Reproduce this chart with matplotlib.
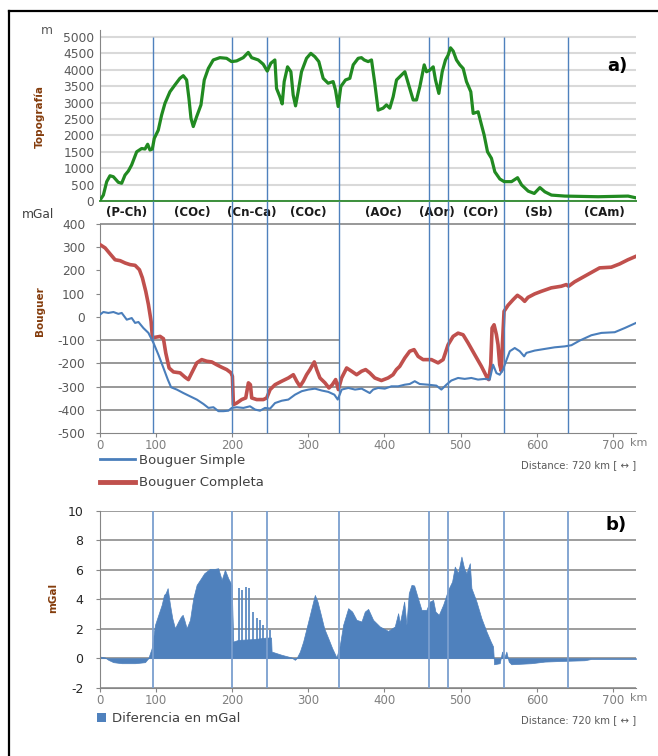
import matplotlib
matplotlib.use("Agg")
import matplotlib.pyplot as plt
from matplotlib.lines import Line2D
from matplotlib.patches import Patch

plt.rcParams["font.family"] = ["DejaVu Sans"]
plt.rcParams["axes.unicode_minus"] = False

# --------------------------------------------------
# datos leidos del perfil (km, valor)

topo_km = [27.3, 31.6, 36, 40.3, 44.7, 51.2, 55.6, 60, 64.4, 68.7, 75.3, 81.8, 86.2, 89.7,
           92.7, 95.8, 98.4, 103.6, 108, 112.4, 118.9, 125.5, 132, 136.4, 140.8, 143.8,
           146.5, 149.5, 153.9, 159.6, 163.9, 169.2, 175.7, 184.4, 193.2, 199.7, 206.3,
           215, 221.6, 226, 234.7, 241.2, 246.5, 251.2, 256.5, 258.7, 263, 266.1, 268.7,
           273.1, 277.5, 280.5, 283.6, 287, 291.4, 298, 303.6, 308.9, 314.1, 319.8, 326.3,
           332.9, 336, 339.5, 343, 349.1, 354.8, 359.2, 365.7, 370, 373.6, 378.8, 383.2,
           387.5, 391.9, 398.4, 402.8, 407.2, 411.6, 416, 422.5, 426.9, 431.3, 437.8,
           442.2, 446.6, 452.3, 455.3, 459.7, 464.1, 467.1, 471.5, 475.9, 480.2, 483.7,
           486.8, 490.3, 494.6, 499, 503.4, 507.7, 513.4, 516.5, 523, 527.4, 530.9, 535.3,
           540.5, 544.9, 551.5, 557.2, 566.8, 574.7, 580, 588.7, 596.6, 604, 610.5, 619.2,
           636.7, 680.3, 719.6, 729.3]
topo_m = [30, 180, 590, 770, 740, 570, 540, 790, 915, 1100, 1500, 1600, 1585, 1730, 1555,
          1585, 1910, 2160, 2620, 2980, 3330, 3540, 3740, 3820, 3690, 3130, 2520, 2270,
          2570, 2930, 3690, 4040, 4300, 4370, 4350, 4250, 4270, 4370, 4530, 4370, 4300,
          4170, 3960, 4200, 4300, 3430, 3180, 2960, 3640, 4090, 3940, 3230, 2900, 3330,
          3940, 4350, 4500, 4400, 4250, 3740, 3590, 3640, 3380, 2880, 3490, 3690, 3740,
          4150, 4350, 4370, 4300, 4250, 4300, 3590, 2770, 2830, 2930, 2830, 3180, 3690,
          3840, 3940, 3590, 3080, 3080, 3490, 4150, 3940, 3990, 4090, 3690, 3280, 3940,
          4300, 4450, 4670, 4570, 4300, 4150, 4040, 3640, 3330, 2670, 2720, 2320, 2010,
          1500, 1300, 890, 670, 590, 590, 710, 490, 300, 230, 410, 280, 180, 150, 130,
          150, 100]

simple_km = [27.3, 31.6, 38.2, 44.8, 51.3, 55.7, 62.3, 68.8, 73.2, 77.6, 84.1, 90.7, 97.3,
             103.8, 110.4, 116.1, 120.4, 127.9, 136.6, 145.3, 154.1, 162.8, 169.4, 175.9,
             182.5, 189, 195.6, 199.9, 206.5, 215.2, 223.9, 230.5, 237, 243.6, 250.2,
             256.7, 265.5, 274.2, 282.9, 291.7, 300.4, 309.1, 317.9, 326.6, 334.5, 338.9,
             344.1, 352.8, 361.6, 370.3, 380.9, 385.3, 391.9, 400.6, 409.3, 418.1, 426.8,
             433.3, 439.9, 446.4, 457.3, 468.3, 474.8, 481.4, 487.9, 496.7, 505.4, 514.1,
             522.9, 531.6, 538.2, 542.6, 547, 551.3, 555.7, 557.9, 564.5, 571, 577.6,
             583.3, 586.3, 597.2, 610.3, 623.4, 636.5, 645.3, 656.2, 671.5, 684.6, 702.1,
             715.2, 730]
simple_mgal = [10, 21, 17, 21, 13, 17, -12, -5, -26, -22, -48, -69, -112, -163, -220, -270,
               -303, -313, -328, -342, -356, -375, -392, -389, -406, -406, -404, -392,
               -389, -392, -385, -399, -404, -392, -395, -371, -361, -356, -335, -320,
               -313, -309, -317, -323, -335, -356, -313, -306, -313, -309, -328, -313,
               -306, -309, -299, -299, -292, -289, -277, -289, -292, -296, -313, -292,
               -274, -263, -267, -263, -270, -267, -270, -206, -242, -249, -227, -206,
               -148, -134, -148, -170, -155, -145, -138, -131, -127, -122, -102, -79,
               -69, -66, -48, -26]

completa_km = [27.3, 33.9, 40.5, 47, 53.6, 60.2, 66.7, 73.2, 78.9, 82.8, 87.2, 90.7, 94.2,
               96, 99.4, 106, 110.4, 113.4, 117.8, 123.5, 132.2, 138.8, 143.1, 147.5,
               154.1, 160.6, 167.2, 173.7, 180.2, 186.8, 193.4, 199, 200.8, 202.1, 206.5,
               213, 218.3, 221.8, 224.4, 226.1, 232.7, 241.4, 245.8, 250.2, 256.7, 265.5,
               274.2, 280.7, 285.1, 289.4, 293.8, 298.1, 302.5, 308.2, 311.3, 315.6,
               322.2, 327.4, 331.8, 336.2, 339.7, 344, 350.6, 357.1, 363.7, 370.2, 375.5,
               380.9, 387.5, 396.2, 404.9, 411.4, 415.8, 420.2, 426.8, 433.3, 439, 444.3,
               450.8, 461.7, 470.5, 477.1, 483.6, 490.2, 496.7, 503.3, 509.8, 518.6,
               527.3, 533.9, 536.9, 539.5, 541.3, 543.9, 547, 549.1, 551.3, 553.5, 554.8,
               557, 562.2, 568.8, 574.5, 579.7, 584, 588.4, 597.1, 605.8, 618.9, 632,
               638.6, 641.6, 649.5, 662.6, 675.7, 682.3, 697.6, 708.5, 719.4, 730]
completa_mgal = [311, 297, 271, 246, 242, 232, 225, 222, 203, 168, 110, 53, -19, -91, -88,
                 -84, -94, -155, -220, -237, -241, -260, -270, -241, -198, -184, -191,
                 -194, -206, -217, -227, -241, -256, -378, -371, -356, -349, -284, -292,
                 -349, -356, -356, -349, -313, -292, -277, -263, -249, -277, -299, -277,
                 -249, -227, -194, -227, -263, -284, -306, -292, -270, -313, -263, -220,
                 -234, -249, -234, -227, -241, -263, -274, -263, -249, -227, -213, -177,
                 -148, -141, -170, -184, -184, -198, -184, -120, -84, -70, -77, -112,
                 -163, -213, -256, -270, -206, -48, -34, -77, -120, -206, -234, -120, 24,
                 50, 74, 93, 81, 67, 84, 99, 110, 125, 132, 139, 132, 151, 175, 199, 211,
                 214, 228, 246, 261]

diff_km = [27.2, 33.8, 38.1, 44.7, 55.7, 73.1, 86.2, 90.5, 95, 99.3, 103.7, 108.1, 111.1,
           113.3, 115.9, 119, 122, 125.5, 129.9, 133.4, 135.6, 137.7, 140.8, 145.2, 149.5,
           153.9, 158.3, 163.9, 171.4, 177.9, 182.2, 186.7, 191, 195.3, 199.8, 201.9,
           208.4, 230, 245, 251.5, 252.2, 265.3, 278.4, 282.7, 284.9, 289.3, 293.6, 298,
           302.4, 306.7, 308.9, 312.4, 316.8, 321.1, 326.4, 331.6, 337.3, 341.7, 346,
           352.6, 357.8, 363.5, 370.1, 374.4, 378.8, 385.3, 394.1, 405, 413.7, 418.1,
           420.3, 426, 429, 432.1, 435.6, 439.1, 443.4, 448.7, 455.2, 459.6, 464, 467,
           471.4, 477.1, 483.6, 488.9, 492.4, 496.7, 501.1, 504.6, 507.7, 512.1, 514.2,
           520.8, 527.3, 533.9, 539.5, 542.6, 543.9, 551.3, 554.4, 557, 560, 563.1, 566.5,
           592.7, 610.2, 636.4, 662.6, 671.4, 730]
diff_mgal = [0.11, 0.05, -0.11, -0.27, -0.34, -0.34, -0.27, 0, 0.68, 2.26, 2.94, 3.62, 4.29,
             4.41, 4.75, 3.62, 2.71, 2.03, 2.49, 2.82, 2.94, 2.6, 2.03, 2.6, 4.07, 4.97,
             5.31, 5.76, 6.06, 6.06, 6.1, 5.31, 5.99, 5.42, 4.97, 1.13, 1.24, 1.3, 1.4,
             1.4, 0.45, 0.23, 0.05, -0.11, 0, 0.45, 1.13, 2.03, 2.94, 3.84, 4.29, 3.84,
             2.94, 2.03, 1.36, 0.68, 0.05, 0.9, 2.26, 3.39, 3.16, 2.6, 2.49, 3.16, 3.34,
             2.6, 2.15, 1.85, 2.15, 3.05, 2.37, 3.84, 2.26, 4.41, 4.97, 4.93, 4.18, 3.28,
             3.28, 3.84, 3.95, 3.16, 2.94, 3.62, 4.63, 5.2, 6.21, 5.76, 6.89, 6.1, 5.76,
             6.44, 4.75, 3.84, 2.71, 1.81, 1.13, 0.79, -0.41, -0.34, 0.45, 0, 0.45, -0.23,
             -0.41, -0.34, -0.23, -0.18, -0.14, -0.05, -0.05]

# picos aislados de la diferencia
spike_km = [209.4, 212.8, 218.1, 222.4, 228.1, 232.5, 236.8, 241.2, 245.6, 250]
spike_mgal = [4.75, 4.63, 4.86, 4.75, 3.16, 2.71, 2.6, 2.26, 1.92, 1.92]

# limites entre unidades
bounds_km = [96.7, 200.2, 245.6, 341, 458, 483.2, 556.6, 640.5]
unit_names = ['(P-Ch)', '(COc)', '(Cn-Ca)', '(COc)', '(AOc)', '(AOr)', '(COr)', '(Sb)', '(CAm)']
unit_km = [62.6, 147.8, 226.4, 299.8, 399.3, 468.7, 526.4, 602.4, 688.9]

dist_ticks = [100, 200, 300, 400, 500, 600, 700]

X0, X1 = 27.2, 730
W, H = 658, 756

GREEN = '#218a21'
RED = '#c0504d'
BLUE = '#4a7ebb'
VLINE = '#4f81bd'
GRAY = '#868686'
BROWN = '#843c0c'

# --------------------------------------------------


def px_box(left, top, right, bottom):
    return [left / W, 1 - bottom / H, (right - left) / W, (bottom - top) / H]


def fig_xy(x, y):
    return x / W, 1 - y / H


fig = plt.figure(figsize=(6.58, 7.56), dpi=100)

ax1 = fig.add_axes(px_box(100, 30, 636, 201))
ax2 = fig.add_axes(px_box(100, 224, 636, 433))
ax3 = fig.add_axes(px_box(100, 510.7, 636, 687.7))

for ax in (ax1, ax2, ax3):
    ax.set_xlim(X0, X1)
    ax.spines['top'].set_visible(False)
    ax.spines['right'].set_visible(False)
    ax.spines['left'].set_color(GRAY)
    ax.spines['bottom'].set_color(GRAY)
    ax.set_axisbelow(True)

# --------------------------------------------------
# a) topografia

ax1.set_ylim(0, 5213)
ax1.set_yticks(range(0, 5001, 500))
ax1.set_xticks([])
ax1.grid(axis='y', color='#d9d9d9', lw=1.5)
ax1.spines['bottom'].set_color('#3b8f3b')
ax1.spines['bottom'].set_linewidth(1.4)
ax1.tick_params(axis='y', length=0, pad=4, labelsize=8.8, labelcolor='#595959')
ax1.vlines(bounds_km, 0, 5000, color=VLINE, lw=1, zorder=2)
ax1.plot(topo_km, topo_m, color=GREEN, lw=2.3, zorder=3)

for name, k in zip(unit_names, unit_km):
    ax1.text(k, -0.07, name, transform=ax1.get_xaxis_transform(), ha='center',
             va='center', fontsize=8.5, fontweight='bold', color='#1a1a1a')

ax1.text(0.965, 0.79, 'a)', transform=ax1.transAxes, ha='center', va='center',
         fontsize=13, fontweight='bold', color='black')

# --------------------------------------------------
# Bouguer simple / completa

ax2.set_ylim(-500, 400)
ax2.set_yticks(range(-500, 401, 100))
ax2.tick_params(axis='y', length=3, color=GRAY, pad=7.5, labelsize=8.8,
                labelcolor='#595959')
ax2.set_xticks([X0] + dist_ticks)
ax2.set_xticklabels(['0'] + [str(t) for t in dist_ticks])
ax2.tick_params(axis='x', length=3, color=GRAY, pad=1.5, labelsize=8.5,
                labelcolor='#7f7f7f')

ax2.hlines([400, -300, -400], X0, X1, color=GRAY, lw=1.2, zorder=1, clip_on=False)
ax2.hlines([-100, -200], X0, bounds_km[3], color=GRAY, lw=1.2, zorder=1)
ax2.hlines(-100, bounds_km[7], X1, color=GRAY, lw=1.2, zorder=1)
ax2.hlines(-200, bounds_km[6], X1, color=GRAY, lw=1.2, zorder=1)

l_comp, = ax2.plot(completa_km, completa_mgal, color=RED, lw=2.6, zorder=3)
l_simp, = ax2.plot(simple_km, simple_mgal, color=BLUE, lw=1.5, zorder=4)
ax2.vlines(bounds_km, -500, 499, color=VLINE, lw=1, zorder=5, clip_on=False)

ax2.legend([Line2D([], [], color=BLUE, lw=2), Line2D([], [], color=RED, lw=3.5)],
           ['Bouguer Simple', 'Bouguer Completa'], loc='upper left',
           bbox_to_anchor=(0, -0.1), frameon=False, fontsize=9.5, handlelength=2.65,
           handletextpad=0.3, labelspacing=0.7, borderpad=0, borderaxespad=0,
           labelcolor='#404040')

# --------------------------------------------------
# b) diferencia

ax3.set_ylim(-2, 10)
ax3.set_yticks(range(-2, 11, 2))
ax3.grid(axis='y', color='#8c8c8c', lw=1.2)
ax3.tick_params(axis='y', length=3, color=GRAY, pad=9, labelsize=9, labelcolor='#262626')
ax3.set_xticks([X0] + dist_ticks)
ax3.set_xticklabels(['0'] + [str(t) for t in dist_ticks])
ax3.tick_params(axis='x', length=3, color=GRAY, pad=1.5, labelsize=8.5,
                labelcolor='#7f7f7f')

ax3.fill_between(diff_km, diff_mgal, 0, color='#4f81bd', lw=0.5, zorder=2)
ax3.vlines(spike_km, 0, spike_mgal, color='#4f81bd', lw=1.2, zorder=2)
ax3.vlines(bounds_km, -2, 10, color='#7b9fcf', lw=1.3, zorder=3)

ax3.legend([Patch(facecolor='#4f81bd')], ['Diferencia en mGal'], loc='upper left',
           bbox_to_anchor=(-0.006, -0.14), frameon=False, fontsize=9.5,
           handlelength=0.68, handleheight=0.68, handletextpad=0.45, borderpad=0,
           borderaxespad=0, labelcolor='#404040')

ax3.text(0.962, 0.92, 'b)', transform=ax3.transAxes, ha='center', va='center',
         fontsize=13, fontweight='bold', color='black')

# "km" detras del 700
for ax in (ax2, ax3):
    ax.annotate('km', xy=(700, 0), xycoords=('data', 'axes fraction'), xytext=(12.5, -7.2),
                textcoords='offset points', ha='left', va='center', fontsize=8,
                color='#7f7f7f')
    ax.text(1.0, -0.155 if ax is ax2 else -0.185, 'Distance: 720 km [ \u2194 ]',
            transform=ax.transAxes, ha='right', va='center', fontsize=7.3, color='#595959')

# --------------------------------------------------
# rotulos de ejes

fig.text(*fig_xy(47, 30), 'm', ha='center', va='center', fontsize=8.8, color='#595959')
fig.text(*fig_xy(38, 215), 'mGal', ha='center', va='center', fontsize=8.8, color='#404040')
fig.text(*fig_xy(40, 116), 'Topografía', ha='center', va='center', rotation=90,
         fontsize=7.5, fontweight='bold', color=BROWN)
fig.text(*fig_xy(40, 311), 'Bouguer', ha='center', va='center', rotation=90,
         fontsize=7.5, fontweight='bold', color=BROWN)
fig.text(*fig_xy(53, 598), 'mGal', ha='center', va='center', rotation=90,
         fontsize=7.5, fontweight='bold', color=BROWN)

# marco
fig.add_artist(Line2D([9 / W, 9 / W], [0, 1 - 11 / H], color='black', lw=1.6,
                      transform=fig.transFigure))
fig.add_artist(Line2D([9 / W, 1], [1 - 11 / H, 1 - 11 / H], color='black', lw=1.6,
                      transform=fig.transFigure))

fig.savefig('out.png', dpi=100)
